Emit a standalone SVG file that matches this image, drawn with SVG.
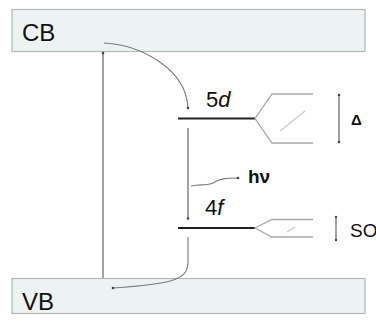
<svg xmlns="http://www.w3.org/2000/svg" width="376" height="323" viewBox="0 0 376 323">
<style>
.band{fill:#edf3f3;stroke:#b4b8b8;stroke-width:1.2}
.lbl{font-family:"Liberation Sans",Arial,sans-serif;fill:#111}
.lvl{stroke:#222;stroke-width:1.8;fill:none}
.split{stroke:#a8a8a8;stroke-width:1.3;fill:none}
.faint{stroke:#c8c8c8;stroke-width:1.3;fill:none}
.arr{stroke:#555;stroke-width:1.1;fill:none}
.crv{stroke:#7a7a7a;stroke-width:1.1;fill:none}
.dot{fill:#444}
</style>
<rect width="376" height="323" fill="#fff"/>
<g id="cb">
<rect class="band" x="12" y="9.5" width="353" height="42"/>
<text class="lbl" x="22" y="41" font-size="24">CB</text>
</g>
<g id="vb">
<rect class="band" x="12" y="278.5" width="353" height="35"/>
<text class="lbl" x="22" y="310" font-size="24">VB</text>
</g>
<g id="level5d">
<line class="lvl" x1="178" y1="118.5" x2="255" y2="118.5"/>
<polyline class="split" points="313,94 272,94 255,118.5 272,143 313,143"/>
<line class="faint" x1="280" y1="131" x2="305" y2="111"/>
<text class="lbl" x="206" y="107" font-size="22">5<tspan font-style="italic">d</tspan></text>
</g>
<g id="level4f">
<line class="lvl" x1="178" y1="228" x2="255" y2="228"/>
<polyline class="split" points="313,219.5 272,219.5 255,228 272,237 313,237"/>
<line class="faint" x1="287" y1="232" x2="295" y2="227"/>
<text class="lbl" x="205" y="215" font-size="22">4<tspan font-style="italic">f</tspan></text>
</g>
<g id="delta">
<line class="arr" x1="339" y1="95" x2="339" y2="142"/>
<circle class="dot" cx="339" cy="95" r="1.3"/>
<circle class="dot" cx="339" cy="142" r="1.3"/>
<text class="lbl" x="351" y="125" font-size="15" font-weight="bold">Δ</text>
</g>
<g id="so">
<line class="arr" x1="336" y1="217" x2="336" y2="240"/>
<circle class="dot" cx="336" cy="217" r="1.2"/>
<circle class="dot" cx="336" cy="240" r="1.2"/>
<text class="lbl" x="350" y="237" font-size="19">SO</text>
</g>
<g id="hv">
<text class="lbl" x="248" y="183" font-size="19" font-weight="bold">hν</text>
</g>
<g id="connectors">
<line class="arr" x1="103" y1="53" x2="103" y2="278"/>
<circle class="dot" cx="103" cy="53" r="1.3"/>
<path class="crv" d="M104,43 C140,45 186,68 188,108"/>
<circle class="dot" cx="188" cy="108" r="1.3"/>
<line class="arr" x1="188" y1="128" x2="188" y2="218"/>
<circle class="dot" cx="188" cy="218.5" r="1.3"/>
<path class="crv" d="M191,186 C200,184 207,186 213,183 C220,178 228,178 238,178"/>
<circle class="dot" cx="238" cy="178" r="1.3"/>
<path class="crv" d="M188,237 L188,262 C188,280 172,284 113,288"/>
<circle class="dot" cx="113" cy="288" r="1.3"/>
</g>
</svg>
